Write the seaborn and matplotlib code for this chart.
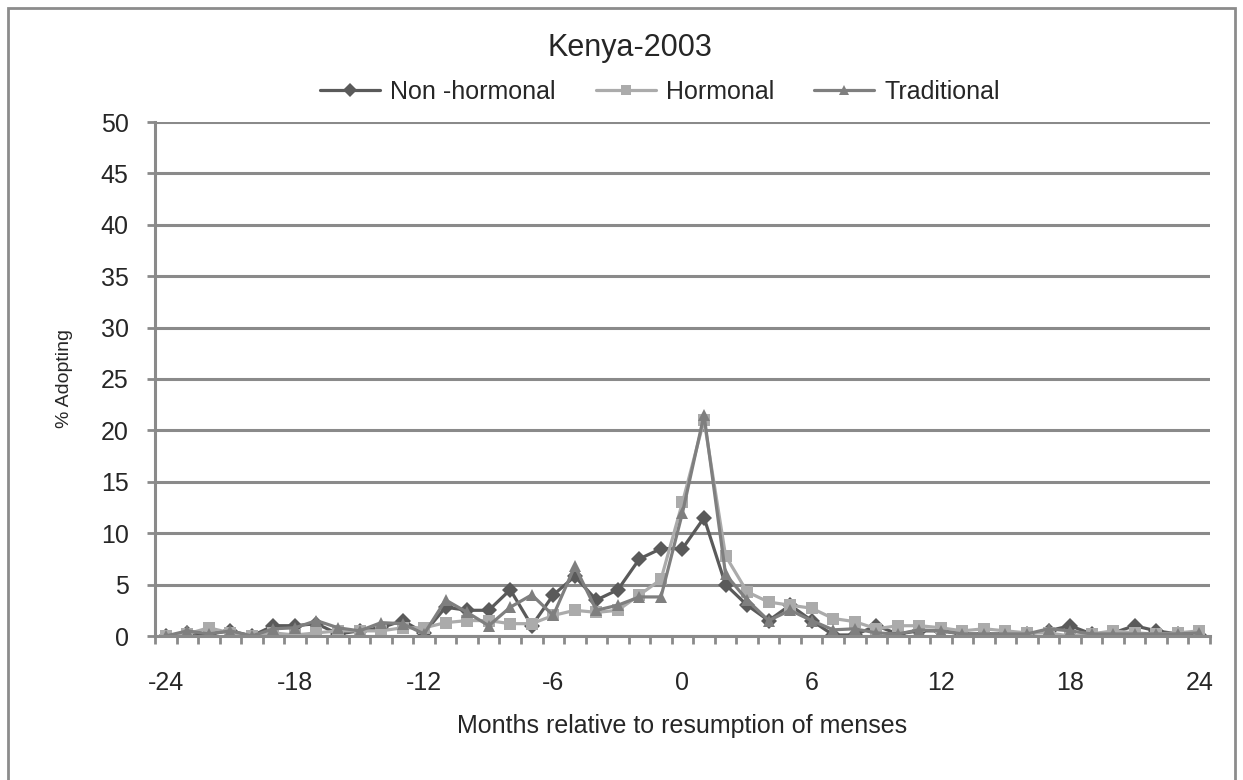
import numpy as np
import pandas as pd
import seaborn as sns
import matplotlib.pyplot as plt
from matplotlib.patches import Rectangle

# Months relative to resumption of menses
months = list(range(-24, 25))

non_hormonal = [0.0, 0.3, 0.2, 0.5, 0.0, 1.0, 1.0, 1.2, 0.2, 0.5, 0.8, 1.5, 0.3,
                2.8, 2.5, 2.5, 4.5, 1.0, 4.0, 5.8, 3.5, 4.5, 7.5, 8.5,
                8.5, 11.5, 5.0, 3.0, 1.5, 3.0, 1.5, 0.1, 0.1, 1.0, 0.2, 0.5, 0.5,
                0.2, 0.2, 0.2, 0.2, 0.5, 1.0, 0.2, 0.3, 1.0, 0.5, 0.2, 0.1]
hormonal = [0.0, 0.2, 0.8, 0.3, 0.0, 0.3, 0.1, 0.3, 0.5, 0.5, 0.5, 0.8, 0.8,
            1.3, 1.5, 1.5, 1.2, 1.2, 2.0, 2.5, 2.3, 2.5, 4.0, 5.5,
            13.0, 21.0, 7.8, 4.3, 3.3, 3.0, 2.7, 1.7, 1.4, 0.7, 1.0, 1.0, 0.8,
            0.5, 0.7, 0.5, 0.3, 0.3, 0.0, 0.2, 0.5, 0.3, 0.2, 0.3, 0.5]
traditional = [0.0, 0.5, 0.2, 0.5, 0.0, 0.7, 0.8, 1.5, 0.8, 0.5, 1.3, 1.2, 0.2,
               3.5, 2.3, 1.0, 2.8, 4.0, 2.0, 6.8, 2.5, 3.0, 3.8, 3.8,
               12.0, 21.5, 6.0, 3.5, 1.5, 2.5, 1.5, 0.6, 0.7, 0.3, 0.2, 0.6, 0.5,
               0.2, 0.2, 0.2, 0.2, 0.7, 0.5, 0.2, 0.2, 0.2, 0.2, 0.2, 0.3]

series_names = ['Non-hormonal', 'Hormonal', 'Traditional']
legend_labels = ['Non -hormonal', 'Hormonal', 'Traditional']
colors = {'Non-hormonal': '#5a5a5a', 'Hormonal': '#ababab', 'Traditional': '#7f7f7f'}
markers = {'Non-hormonal': 'D', 'Hormonal': 's', 'Traditional': '^'}

df = pd.DataFrame({
    'Month': months * 3,
    'Value': non_hormonal + hormonal + traditional,
    'Method': sum([[s] * len(months) for s in series_names], []),
})

sns.set_style('white')
plt.rcParams['font.family'] = ['Liberation Sans', 'DejaVu Sans']
plt.rcParams['axes.unicode_minus'] = False

fig = plt.figure(figsize=(12.43, 7.8), dpi=100)
ax = fig.add_axes([155 / 1243, 1 - 636 / 780, 1055 / 1243, 514 / 780])

# outer chart frame (bottom edge falls outside the image)
fig.patches.append(Rectangle((8 / 1243, -10 / 780), 1227 / 1243, 782 / 780,
                             transform=fig.transFigure, fill=False,
                             edgecolor='#8c8c8c', linewidth=2))

sns.lineplot(data=df, x='Month', y='Value', hue='Method', style='Method',
             palette=colors, markers=markers, dashes=False,
             hue_order=series_names, style_order=series_names,
             linewidth=2.3, markersize=8, markeredgewidth=0, ax=ax, legend=False)

ax.set_xlim(-24.5, 24.5)
ax.set_ylim(0, 50)
ax.set_yticks(range(0, 51, 5))
ax.set_xticks(range(-24, 25, 6))
ax.set_xticks(np.arange(-24.5, 25, 1), minor=True)
ax.grid(axis='y', color='#8a8a8a', linewidth=2.2)
ax.set_axisbelow(True)

for side in ['top', 'right']:
    ax.spines[side].set_visible(False)
for side in ['left', 'bottom']:
    ax.spines[side].set_color('#8a8a8a')
    ax.spines[side].set_linewidth(2.2)

ax.tick_params(axis='y', which='major', length=6, width=2, color='#8a8a8a',
               left=True, direction='out', pad=13, labelsize=18)
ax.tick_params(axis='x', which='major', length=0, pad=25, labelsize=18)
ax.tick_params(axis='x', which='minor', length=6, width=2, color='#8a8a8a',
               bottom=True, direction='out')

ax.set_xlabel('Months relative to resumption of menses', fontsize=18, labelpad=14)
ax.set_ylabel('% Adopting', fontsize=14)
ax.yaxis.set_label_coords(-0.078, 0.5)

fig.text(630 / 1243, 1 - 56 / 780, 'Kenya-2003', ha='center', va='baseline', fontsize=22)

handles = [plt.Line2D([], [], color=colors[s], marker=markers[s], linewidth=2.3,
                      markersize=7, markeredgewidth=0) for s in series_names]
fig.legend(handles, legend_labels, loc='center', ncol=3,
           bbox_to_anchor=(660 / 1243, 1 - 92 / 780), frameon=False, fontsize=18,
           handlelength=2.4, handletextpad=0.4, columnspacing=1.6)

fig.savefig('out.png', dpi=100)
